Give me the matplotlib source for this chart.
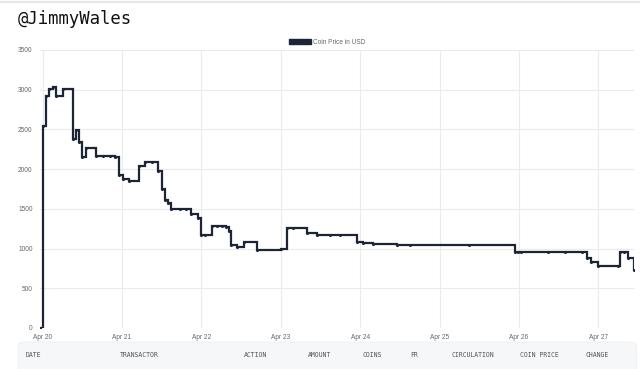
import matplotlib
matplotlib.use("Agg")
import matplotlib.pyplot as plt
from matplotlib.patches import Patch, FancyBboxPatch

# time in days since Apr 20 00:00
days = [-0.038, 0.003, 0.044, 0.086, 0.128, 0.170, 0.254, 0.380, 0.422, 0.456,
        0.501, 0.548, 0.674, 0.763, 0.851, 0.914, 0.967, 1.010, 1.086, 1.212,
        1.295, 1.380, 1.455, 1.505, 1.547, 1.584, 1.622, 1.735, 1.810, 1.874,
        1.955, 2.000, 2.047, 2.131, 2.198, 2.261, 2.311, 2.349, 2.374, 2.453,
        2.542, 2.705, 3.000, 3.083, 3.155, 3.331, 3.453, 3.621, 3.747, 3.957,
        4.040, 4.166, 4.461, 4.628, 5.372, 5.951, 5.989, 6.027, 6.366, 6.580,
        6.790, 6.854, 6.904, 7.000, 7.250, 7.273, 7.323, 7.377, 7.449]
price = [0, 2540, 2920, 3005, 3040, 2915, 3005, 2380, 2490, 2340,
         2155, 2260, 2165, 2160, 2160, 2155, 1920, 1870, 1850, 2035,
         2085, 2085, 1980, 1750, 1610, 1580, 1495, 1495, 1495, 1430,
         1390, 1165, 1165, 1285, 1285, 1280, 1275, 1220, 1040, 1015,
         1085, 980, 990, 1255, 1255, 1190, 1170, 1170, 1170, 1080,
         1065, 1055, 1045, 1045, 1045, 955, 955, 955, 960, 960,
         960, 880, 835, 782, 782, 955, 955, 878, 730]

tick_days = [0, 1, 2, 3, 4, 5, 6, 7]
tick_labels = ["Apr 20", "Apr 21", "Apr 22", "Apr 23", "Apr 24", "Apr 25", "Apr 26", "Apr 27"]
y_ticks = [0, 500, 1000, 1500, 2000, 2500, 3000, 3500]
columns = ["DATE", "TRANSACTOR", "ACTION", "AMOUNT", "COINS", "FR", "CIRCULATION", "COIN PRICE", "CHANGE"]
col_x = [26, 119.5, 244, 308, 362.5, 410, 451.5, 520.5, 585.5]

W, H = 640, 369
fig = plt.figure(figsize=(W / 100, H / 100), dpi=100)
fig.patch.set_facecolor("white")

line_color = "#1c2438"
grid_color = "#ebebeb"

ax = fig.add_axes([39.5 / W, 1 - 328 / H, (634 - 39.5) / W, (328 - 50) / H])
ax.plot(days, price, drawstyle="steps-post", color=line_color, lw=1.6,
        solid_joinstyle="miter")
ax.plot(days, price, linestyle="none", marker="o", ms=1.2, color=line_color)
ax.set_xlim(days[0], days[-1])
ax.set_ylim(0, 3500)
ax.set_xticks(tick_days)
ax.set_xticklabels(tick_labels)
ax.set_yticks(y_ticks)
ax.set_yticklabels([str(v) for v in y_ticks])
ax.grid(True, color=grid_color, lw=0.8)
ax.set_axisbelow(True)
for s in ax.spines.values():
    s.set_visible(False)
ax.tick_params(axis="both", length=0, labelsize=4.7, colors="#666666",
               labelfontfamily="Liberation Sans")
ax.tick_params(axis="x", pad=4)
ax.tick_params(axis="y", pad=5)

leg = ax.legend(handles=[Patch(facecolor=line_color, edgecolor=line_color)],
                labels=["Coin Price in USD"], loc="center",
                bbox_to_anchor=(327 / W, 1 - 42.3 / H), bbox_transform=fig.transFigure,
                frameon=False, prop={"family": "Liberation Sans", "size": 4.7},
                handlelength=3.4, handleheight=0.95, handletextpad=0.35,
                labelcolor="#666666")

fig.text(18 / W, 1 - 18.5 / H, "@JimmyWales", fontsize=12.4, family="DejaVu Sans Mono",
         color="#111111", va="center", ha="left")

# top divider line
fig.add_artist(plt.Line2D([0, 1], [1 - 1.5 / H, 1 - 1.5 / H], color="#e6e6e6", lw=1.5,
                          transform=fig.transFigure))

# table header box
box = FancyBboxPatch((18 / W, -20 / H), (636.5 - 18) / W, (369 - 342 + 20) / H,
                     boxstyle="round,pad=0,rounding_size=0.012", transform=fig.transFigure,
                     facecolor="#f6f7f9", edgecolor="#eeeff2", lw=0.6)
fig.add_artist(box)
for name, x in zip(columns, col_x):
    fig.text(x / W, 1 - 354.7 / H, name, fontsize=4.7, family="DejaVu Sans Mono",
             color="#555555", va="center", ha="left")

fig.savefig("out.png", dpi=100, facecolor="white")
